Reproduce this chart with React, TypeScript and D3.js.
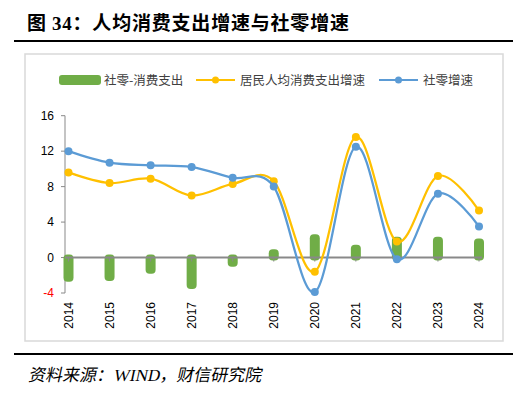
import React from "react";
import * as d3 from "d3";

const years = ["2014", "2015", "2016", "2017", "2018", "2019", "2020", "2021", "2022", "2023", "2024"];
const diffValues = [-2.4, -2.3, -1.5, -3.2, -0.7, 0.6, 2.3, 1.1, 2.0, 2.0, 1.8];
const spendGrowth = [9.6, 8.4, 8.9, 7.0, 8.3, 8.6, -1.6, 13.6, 1.8, 9.2, 5.3];
const retailGrowth = [12.0, 10.7, 10.4, 10.2, 9.0, 8.0, -3.9, 12.5, -0.2, 7.2, 3.5];
const yTicks = [-4, 0, 4, 8, 12, 16];

const GREEN = "#70ad47";
const YELLOW = "#ffc000";
const BLUE = "#5b9bd5";
const AXIS = "#898989";
const FONT = "'Noto Sans CJK SC', 'Microsoft YaHei', sans-serif";

const App = () => {
  const x = d3.scalePoint().domain(years).range([68.5, 479]);
  const y = d3.scaleLinear().domain([-4, 16]).range([293, 115.7]);

  const line = d3
    .line<number>()
    .x((_, i) => x(years[i]) as number)
    .y((d) => y(d))
    .curve(d3.curveCardinal.tension(0));

  const barW = 10;

  return (
    <svg width={528} height={393} style={{ position: "absolute", left: 0, top: 0, background: "#fff" }}>
      {/* title */}
      <text x={27} y={30} fontFamily={FONT} fontWeight="bold" fontSize={19} letterSpacing={0.8} fill="#000">
        图 <tspan fontFamily="'Liberation Serif', serif">34</tspan>：人均消费支出增速与社零增速
      </text>
      <line x1={14} x2={513} y1={41} y2={41} stroke="#000" strokeWidth={2} />

      {/* chart frame */}
      <rect x={25} y={54} width={478} height={287} fill="#fff" stroke="#d9d9d9" strokeWidth={1.5} />

      {/* legend */}
      <g fontFamily={FONT} fontSize={12.5} fill="#404040">
        <rect x={59} y={75} width={42} height={10} rx={3} fill={GREEN} />
        <text x={104} y={85}>社零-消费支出</text>
        <line x1={196} x2={235} y1={80} y2={80} stroke={YELLOW} strokeWidth={2} />
        <circle cx={215.5} cy={80} r={3.5} fill={YELLOW} />
        <text x={240} y={85}>居民人均消费支出增速</text>
        <line x1={379} x2={418} y1={80} y2={80} stroke={BLUE} strokeWidth={2} />
        <circle cx={398.5} cy={80} r={3.5} fill={BLUE} />
        <text x={423} y={85}>社零增速</text>
      </g>

      {/* y axis */}
      <line x1={65} x2={65} y1={y(16)} y2={y(-4)} stroke={AXIS} strokeWidth={1} />
      {yTicks.map((t) => (
        <g key={t}>
          <line x1={61} x2={65} y1={y(t)} y2={y(t)} stroke={AXIS} />
          <text
            x={54}
            y={y(t)}
            dy="0.35em"
            textAnchor="end"
            fontFamily="'Liberation Sans', Arial, sans-serif"
            fontSize={12}
            fill={t < 0 ? "#ff0000" : "#000"}
          >
            {t}
          </text>
        </g>
      ))}

      {/* bars */}
      {diffValues.map((v, i) => {
        const cx = x(years[i]) as number;
        const top = Math.min(y(v), y(0)) - 3;
        const bottom = Math.max(y(v), y(0)) + 3;
        return (
          <rect key={years[i]} x={cx - barW / 2} y={top} width={barW} height={bottom - top} rx={4} fill={GREEN} />
        );
      })}

      {/* zero line */}
      <line x1={65} x2={482} y1={y(0)} y2={y(0)} stroke={AXIS} strokeWidth={2} />
      {years.map((yr) => (
        <line key={yr} x1={x(yr)} x2={x(yr)} y1={y(0)} y2={y(0) + 4} stroke={AXIS} />
      ))}

      {/* lines */}
      <path d={line(spendGrowth) ?? ""} fill="none" stroke={YELLOW} strokeWidth={2.25} />
      {spendGrowth.map((v, i) => (
        <circle key={years[i]} cx={x(years[i])} cy={y(v)} r={4} fill={YELLOW} />
      ))}
      <path d={line(retailGrowth) ?? ""} fill="none" stroke={BLUE} strokeWidth={2.25} />
      {retailGrowth.map((v, i) => (
        <circle key={years[i]} cx={x(years[i])} cy={y(v)} r={4} fill={BLUE} />
      ))}

      {/* x labels */}
      {years.map((yr) => {
        const cx = x(yr) as number;
        return (
          <text
            key={yr}
            transform={`translate(${cx + 4},302) rotate(-90)`}
            textAnchor="end"
            fontFamily="'Liberation Sans', Arial, sans-serif"
            fontSize={12}
            fill="#000"
          >
            {yr}
          </text>
        );
      })}

      {/* source */}
      <line x1={14} x2={513} y1={354} y2={354} stroke="#000" strokeWidth={2} />
      <text
        transform="translate(28,381) skewX(-12)"
        fontFamily={FONT}
        fontSize={17}
        fill="#000"
      >
        资料来源：<tspan fontFamily="'Liberation Serif', serif">WIND</tspan>，财信研究院
      </text>
    </svg>
  );
};

export default App;
